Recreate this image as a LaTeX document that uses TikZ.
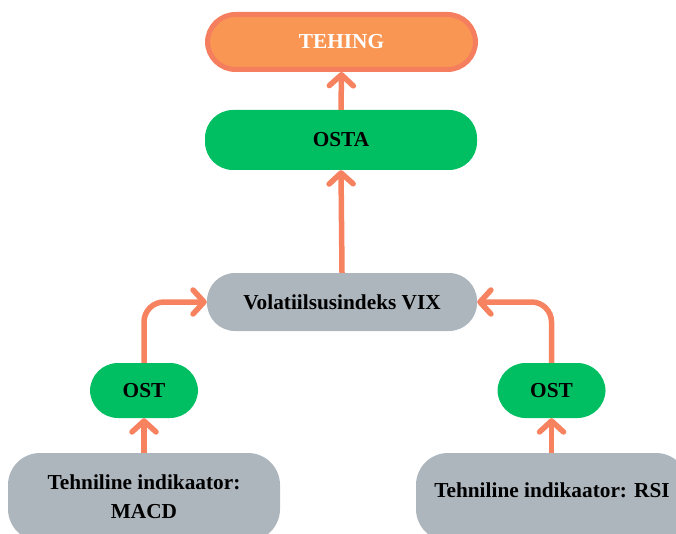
\documentclass[tikz,border=0pt]{standalone}
\usepackage{fontspec}
\setmainfont{Liberation Serif}
\usetikzlibrary{arrows.meta}
\definecolor{arrowc}{HTML}{F6825F}
\definecolor{greenc}{HTML}{00BF63}
\definecolor{grayc}{HTML}{AEB6BD}
\definecolor{orangef}{HTML}{FA9653}
\definecolor{oranged}{HTML}{F47E5E}
\tikzset{
  lbl/.style={font=\fontsize{21.3}{29}\selectfont\bfseries, align=center, inner sep=0pt},
  pill/.style={lbl, rounded corners=#1},
  greenbox/.style={pill=28pt, fill=greenc, text=black},
  graybox/.style={pill=28pt, fill=grayc, text=black},
  link/.style={draw=arrowc, line width=5.5pt, rounded corners=20pt,
    -{Straight Barb[length=11pt, width=24pt, line cap=round, line join=round]}},
}
\begin{document}
\begin{tikzpicture}[x=1pt, y=-1pt]
\useasboundingbox (0,0) rectangle (676,534);
\clip (0,0) rectangle (676,534);
\node[pill=28pt, fill=orangef, draw=oranged, line width=5pt, text=white,
      minimum width=268pt, minimum height=55pt] (tehing) at (341.5,42) {TEHING};
\node[greenbox, minimum width=272pt, minimum height=60pt] (osta) at (341,140) {OSTA};
\node[graybox, minimum width=270pt, minimum height=58pt] (vix) at (342,302) {Volatiilsusindeks VIX};
\node[greenbox, minimum width=108pt, minimum height=55pt] (ostl) at (144,390.5) {OST};
\node[greenbox, minimum width=108pt, minimum height=55pt] (ostr) at (551.5,390.5) {OST};
\node[graybox, pill=32pt, minimum width=272pt, minimum height=88pt] (macd) at (144,497) {Tehniline indikaator:\\MACD};
\node[graybox, pill=32pt, minimum width=272pt, minimum height=88pt] (rsi) at (552,497) {};
\node[lbl] (rsitext) at (552,490) {Tehniline indikaator: RSI};
\draw[link] (osta.north) -- (tehing.south);
\draw[link] (vix.north) -- (osta.south);
\draw[link] (macd.north -| ostl.south) -- (ostl.south);
\draw[link] (rsi.north -| ostr.south) -- (ostr.south);
\draw[link] (ostl.north) |- (vix.west);
\draw[link] (ostr.north) |- (vix.east);
\end{tikzpicture}
\end{document}
